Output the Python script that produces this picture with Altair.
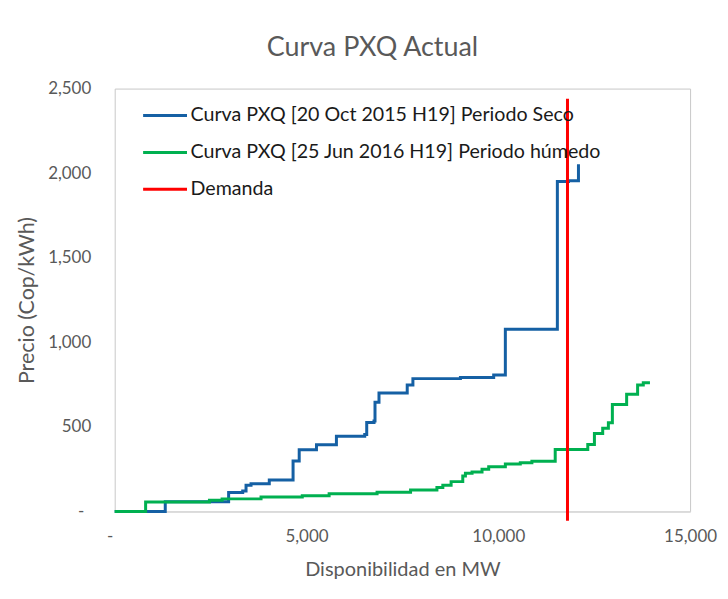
import altair as alt
import pandas as pd

# ---- data ----
blue_name = "Curva PXQ [20 Oct 2015 H19] Periodo Seco"
green_name = "Curva PXQ [25 Jun 2016 H19] Periodo húmedo"
red_name = "Demanda"

blue_x = [0, 1318, 2970, 3337, 3424, 3554, 4030, 4650, 4810, 5260, 5780, 6518,
          6570, 6760, 6786, 6890, 7626, 7774, 9013, 9880, 10184, 11540, 11830, 12090]
blue_y = [0, 57, 111, 121, 154, 164, 185, 298, 364, 394, 445, 455,
          526, 535, 645, 700, 747, 785, 791, 807, 1077, 1950, 1955, 2052]

green_x = [0, 806, 2470, 2800, 3815, 4890, 5590, 6840, 7713, 8400, 8554, 8770,
           9074, 9143, 9316, 9576, 9750, 10184, 10574, 10876, 11484, 12333, 12506,
           12722, 12870, 12974, 13346, 13632, 13780, 13954]
green_y = [0, 56, 66, 74, 85, 92, 104, 113, 127, 141, 154, 176,
           209, 225, 233, 249, 264, 280, 288, 296, 366, 396, 461,
           492, 524, 632, 692, 748, 760, 760]

demand_x = [11804]
demand_y_top = [2440]
demand_y_bottom = [-55]

blue_df = pd.DataFrame({"x": blue_x, "y": blue_y, "serie": blue_name})
green_df = pd.DataFrame({"x": green_x, "y": green_y, "serie": green_name})
red_df = pd.DataFrame({"x": demand_x, "y": demand_y_top, "y2": demand_y_bottom, "serie": red_name})

FONT = "Lato"
GRAY = "#595959"

color = alt.Color(
    "serie:N",
    scale=alt.Scale(domain=[blue_name, green_name, red_name],
                    range=["#1560a4", "#00b050", "#ff0000"]),
    legend=alt.Legend(
        title=None, orient="none", legendX=27, legendY=3.5, padding=0,
        symbolType="stroke", symbolSize=1936, symbolStrokeWidth=3,
        labelFont=FONT, labelFontSize=19.7, labelColor="#1a1a1a",
        labelOffset=2, labelLimit=600, rowPadding=3,
    ),
)

x_enc = alt.X("x:Q", scale=alt.Scale(domain=[0, 15000], nice=False),
              axis=alt.Axis(values=[0, 5000, 10000, 15000],
                            labelExpr="datum.value == 0 ? '-' : format(datum.value, ',')",
                            labelOffset={"condition": {"test": "datum.value == 0", "value": -5},
                                         "value": 0},
                            title="Disponibilidad en MW", grid=False, ticks=False,
                            domainColor="#d9d9d9", domainWidth=1.5, labelFlush=False,
                            labelPadding=17, titleY=58, titleBaseline="middle",
                            titleFontSize=20))
y_enc = alt.Y("y:Q", scale=alt.Scale(domain=[0, 2500], nice=False),
              axis=alt.Axis(values=[0, 500, 1000, 1500, 2000, 2500],
                            labelExpr="datum.value == 0 ? '-' : format(datum.value, ',')",
                            labelPadding={"condition": {"test": "datum.value == 0", "value": 31},
                                          "value": 24},
                            title="Precio (Cop/kWh)", grid=False, ticks=False, domain=False,
                            labelFlush=False, titleX=-87,
                            titleBaseline="middle", titleFontSize=21.5))

blue = alt.Chart(blue_df).mark_line(interpolate="step-after", strokeWidth=3).encode(
    x=x_enc, y=y_enc, color=color)
green = alt.Chart(green_df).mark_line(interpolate="step-after", strokeWidth=3).encode(
    x="x:Q", y="y:Q", color=color)
red = alt.Chart(red_df).mark_rule(strokeWidth=3, clip=False).encode(
    x="x:Q", y="y:Q", y2="y2:Q", color=color)

chart = alt.layer(blue, green, red).properties(
    width=577, height=424,
    title=alt.TitleParams("Curva PXQ Actual", font=FONT, fontSize=27, fontWeight="normal",
                          color=GRAY, anchor="middle", dx=-30, offset=-3, baseline="alphabetic"),
    autosize=alt.AutoSizeParams(type="none"),
    padding={"left": 107, "top": 80, "right": 30, "bottom": 70},
).configure(background="white").configure_view(
    stroke="#c8c8c8", strokeWidth=1
).configure_axis(
    labelFont=FONT, labelFontSize=17, labelColor=GRAY,
    titleFont=FONT, titleColor=GRAY, titleFontWeight="normal",
)

chart.save("out.html", embed_options={"renderer": "svg", "actions": False})
